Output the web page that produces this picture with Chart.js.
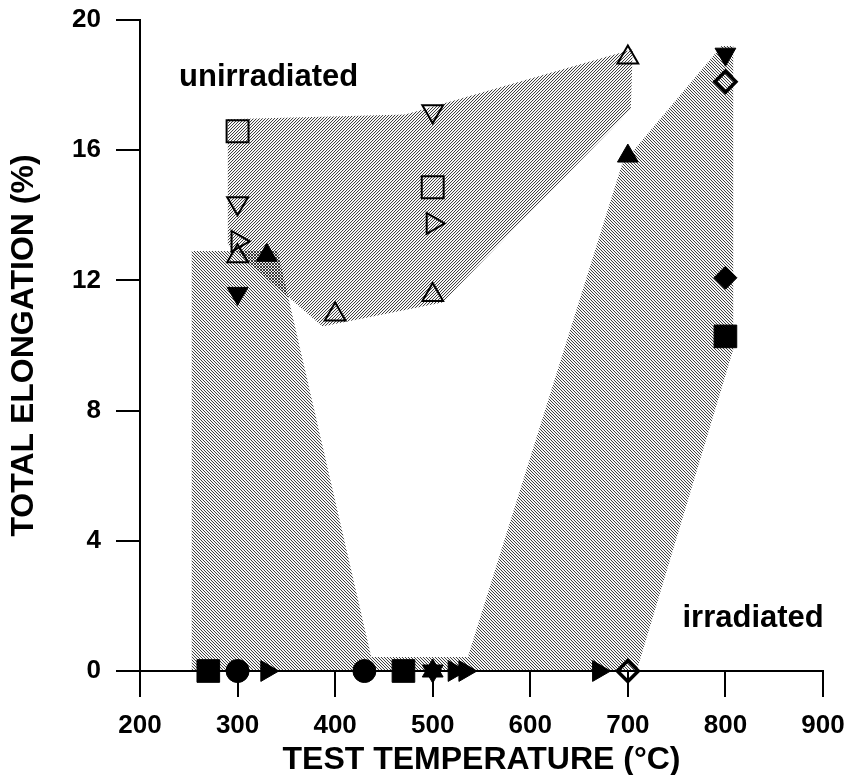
<!DOCTYPE html>
<html>
<head>
<meta charset="utf-8">
<script src="https://cdn.jsdelivr.net/npm/chart.js@4.4.1/dist/chart.umd.min.js"></script>
<style>
  html, body { margin: 0; padding: 0; background: #fff; }
</style>
</head>
<body>
<canvas id="elongation" width="846" height="775"></canvas>
<script>
// test temperature (°C) vs total elongation (%)
const xTicks = [200, 300, 400, 500, 600, 700, 800, 900];
const yTicks = [0, 4, 8, 12, 16, 20];

// outlines of the two shaded bands
const unirradiatedBand = [[290, 16.95], [472, 17.1], [705, 19.1], [703, 17.26], [510, 11.32], [387, 10.58], [290, 13.1]];
const irradiatedBand = [[253, 0], [253, 12.9], [341, 12.9], [437, 0.43], [536, 0.43], [694, 15.57], [796, 19.2], [808, 19.2], [808, 9.88], [709, 0]];

// unirradiated - open symbols
const openSquare = [[300, 16.58], [500, 14.86]];
const openDown = [[300, 14.37], [500, 17.2]];
const openRight = [[300, 13.2], [500, 13.75]];
const openUp = [[300, 12.74], [400, 10.95], [500, 11.55], [700, 18.85]];
const openDiamond = [[800, 18.1], [700, 0]];

// irradiated - filled symbols
const filledUp = [[330, 12.77], [700, 15.82], [500, 0]];
const filledDown = [[300, 11.6], [800, 18.95], [500, 0]];
const filledSquare = [[270, 0], [470, 0], [800, 10.28]];
const filledCircle = [[300, 0], [430, 0]];
const filledRight = [[330, 0], [522, 0], [533, 0], [670, 0]];
const filledDiamond = [[800, 12.08]];

const regionLabels = ["unirradiated", "irradiated"];
const regionLabelX = [240, 756];
const regionLabelY = [17.97, 1.35];

const FONT = "'Liberation Sans', Arial, Helvetica, sans-serif";

const canvas = document.getElementById("elongation");
const ctx = canvas.getContext("2d");

// thin diagonal hatching, transparent between the lines so overlaps cross-hatch
function hatch(rising) {
  const n = 3;
  const tile = document.createElement("canvas");
  tile.width = n;
  tile.height = n;
  const g = tile.getContext("2d");
  for (let i = 0; i < n; i++) {
    const j = rising ? n - 1 - i : i;
    g.fillStyle = "rgba(0,0,0,0.75)";
    g.fillRect(i, j, 1, 1);
    g.fillStyle = "rgba(0,0,0,0.08)";
    g.fillRect(i, (j + 1) % n, 1, 1);
  }
  return ctx.createPattern(tile, "repeat");
}

const toXY = (pts) => pts.map(([x, y]) => ({ x, y }));

function band(data, pattern, order) {
  return {
    type: "line",
    data: toXY(data.concat([data[0]])),
    fill: "shape",
    backgroundColor: pattern,
    borderColor: "rgba(0,0,0,0)",
    borderWidth: 0,
    pointRadius: 0,
    pointHitRadius: 0,
    tension: 0,
    order: order,
  };
}

function symbols(data, style, rotation, radius, filled, width) {
  return {
    type: "scatter",
    data: toXY(data),
    pointStyle: style,
    pointRotation: rotation,
    pointRadius: radius,
    pointHoverRadius: radius,
    pointBackgroundColor: filled ? "#000" : "rgba(0,0,0,0)",
    pointBorderColor: "#000",
    pointBorderWidth: width,
    clip: false,
    order: 0,
  };
}

const regionText = {
  id: "regionText",
  afterDraw(chart) {
    const { ctx, scales } = chart;
    ctx.save();
    ctx.fillStyle = "#000";
    ctx.font = "bold 31px " + FONT;
    ctx.textAlign = "left";
    ctx.textBaseline = "alphabetic";
    regionLabels.forEach((t, i) => {
      ctx.fillText(t, scales.x.getPixelForValue(regionLabelX[i]), scales.y.getPixelForValue(regionLabelY[i]));
    });
    ctx.restore();
  },
};

const axisBase = {
  type: "linear",
  grid: { drawOnChartArea: false, drawTicks: true, color: "#000", lineWidth: 2 },
  border: { display: true, color: "#000", width: 2 },
};

new Chart(ctx, {
  type: "scatter",
  data: {
    datasets: [
      symbols(openSquare, "rect", 0, 15.5, false, 2),
      symbols(openDown, "triangle", 180, 12, false, 2),
      symbols(openRight, "triangle", 90, 12, false, 2),
      symbols(openUp, "triangle", 0, 12, false, 2),
      symbols(openDiamond, "rectRot", 0, 10.5, false, 3.5),
      symbols(filledUp, "triangle", 0, 12, true, 1),
      symbols(filledDown, "triangle", 180, 12, true, 1),
      symbols(filledSquare, "rect", 0, 16, true, 1),
      symbols(filledCircle, "circle", 0, 11.5, true, 1),
      symbols(filledRight, "triangle", 90, 12, true, 1),
      symbols(filledDiamond, "rectRot", 0, 11.5, true, 1),
      band(unirradiatedBand, hatch(true), 2),
      band(irradiatedBand, hatch(false), 3),
    ],
  },
  options: {
    responsive: false,
    animation: false,
    events: [],
    layout: { padding: { top: 20, right: 23, left: 0, bottom: 0 } },
    plugins: { legend: { display: false }, tooltip: { enabled: false } },
    scales: {
      x: {
        ...axisBase,
        min: xTicks[0],
        max: xTicks[xTicks.length - 1],
        afterBuildTicks: (s) => { s.ticks = xTicks.map((v) => ({ value: v })); },
        grid: { ...axisBase.grid, tickLength: 26 },
        ticks: {
          padding: 13,
          color: "#000",
          maxRotation: 0,
          autoSkip: false,
          font: { family: FONT, size: 26, weight: "bold" },
        },
        title: {
          display: true,
          text: "TEST TEMPERATURE (°C)",
          color: "#000",
          padding: 0,
          font: { family: FONT, size: 32, weight: "bold", lineHeight: 0.95 },
        },
        afterFit: (s) => {
          s.height = 104;
          s.paddingLeft = 0;
          s.paddingRight = 0;
        },
      },
      y: {
        ...axisBase,
        min: yTicks[0],
        max: yTicks[yTicks.length - 1],
        afterBuildTicks: (s) => { s.ticks = yTicks.map((v) => ({ value: v })); },
        grid: { ...axisBase.grid, tickLength: 24 },
        ticks: {
          padding: 15,
          color: "#000",
          font: { family: FONT, size: 26, weight: "bold" },
        },
        title: {
          display: true,
          text: "TOTAL ELONGATION (%)",
          color: "#000",
          padding: { top: 9, bottom: 0 },
          font: { family: FONT, size: 32, weight: "bold", lineHeight: 0.95 },
        },
        afterFit: (s) => {
          s.width = 140;
          s.paddingTop = 0;
          s.paddingBottom = 0;
        },
      },
    },
  },
  plugins: [regionText],
});
</script>
</body>
</html>
